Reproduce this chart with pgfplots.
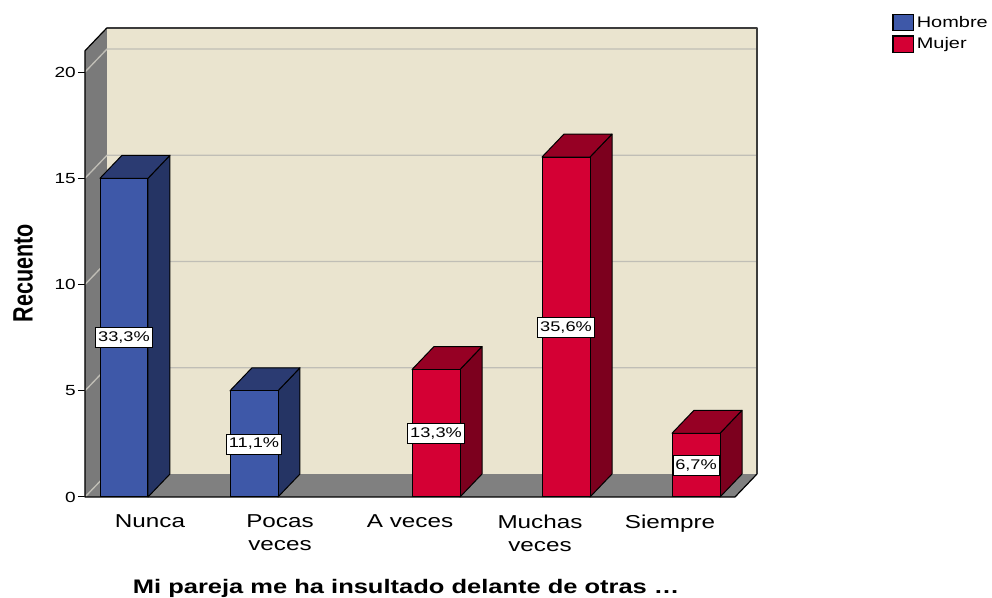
\documentclass[border=0pt]{standalone}
\usepackage{fontspec}
\setmainfont{Liberation Sans}[FakeStretch=1.3]
\newfontfamily\ylabfont{Liberation Sans}[FakeStretch=0.77]
\usepackage{pgfplots}
\pgfplotsset{compat=1.18}
\usepackage{pgfplotstable}

\definecolor{wallback}{RGB}{234,228,207}
\definecolor{wallside}{RGB}{122,122,122}
\definecolor{floorc}{RGB}{128,128,128}
\definecolor{gridc}{RGB}{192,190,182}
\definecolor{hfront}{RGB}{62,88,168}
\definecolor{htop}{RGB}{43,59,114}
\definecolor{hside}{RGB}{37,52,100}
\definecolor{mfront}{RGB}{212,0,52}
\definecolor{mtop}{RGB}{150,0,36}
\definecolor{mside}{RGB}{124,0,30}
\definecolor{edgec}{RGB}{60,60,60}

\pgfplotstableread{
x y
0 15
1 5
}\hombre
\pgfplotstableread{
x y
2 6
3 16
4 3
}\mujer
\pgfplotstableread{
x y lab
-0.2 7.5 {33,3\%}
0.8 2.5 {11,1\%}
2.2 3 {13,3\%}
3.2 8 {35,6\%}
4.2 1.5 {6,7\%}
}\labtab

% #1 x0, #2 x1, #3 x0+dx, #4 x1+dx, #5 h, #6 h+dy, #7 top colour, #8 side colour
\newcommand\barfaces[8]{%
 \addplot[forget plot, fill=#8, draw=black, line width=0.75pt, line join=round] coordinates {(#2,0) (#4,1.082) (#4,#6) (#2,#5)} --cycle;
 \addplot[forget plot, fill=#7, draw=black, line width=0.75pt, line join=round] coordinates {(#1,#5) (#2,#5) (#4,#6) (#3,#6)} --cycle;
}

\begin{document}
\begin{tikzpicture}
\begin{axis}[
 scale only axis, width=504pt, height=351.9pt,
 xmin=-0.5, xmax=4.6692, ymin=0, ymax=22.082,
 clip=false,
 axis lines=left, axis line style={draw=none,-},
 tick align=outside, major tick length=5.25pt,
 ytick={0,5,10,15,20},
 ytick style={black, line width=0.75pt},
 /pgf/number format/assume math mode=true,
 yticklabel style={font=\fontsize{11}{13}\selectfont, inner xsep=1.5pt},
 xtick={0,1,2,3,4},
 xticklabels={Nunca,{Pocas\\veces},{A veces},{Muchas\\veces},Siempre},
 x tick style={draw=none},
 xticklabel style={font=\fontsize{14}{17.25}\selectfont, align=center, anchor=north, inner sep=0pt, yshift=-8pt},
 xlabel={\bfseries Mi pareja me ha insultado delante de otras \dots},
 xlabel style={at={(axis description cs:0.478,0)}, anchor=base, yshift=-72.75pt, font=\fontsize{14.7}{17}\selectfont},
 ylabel={\ylabfont\bfseries Recuento},
 ylabel style={at={(axis description cs:-0.092,0.477)}, anchor=center, rotate=0, font=\fontsize{21}{24}\selectfont},
 legend style={at={(axis cs:5.708,22.78)}, anchor=north west, draw=none, fill=none, inner sep=0pt,
   font=\fontsize{11.5}{13}\selectfont, row sep=2.5pt, cells={anchor=west}},
]
% walls and floor
\addplot[forget plot, fill=wallback, draw=none] coordinates {(-0.3308,1.082) (4.6692,1.082) (4.6692,22.082) (-0.3308,22.082)} --cycle;
\addplot[forget plot, fill=wallside, draw=none] coordinates {(-0.5,0) (-0.3308,1.082) (-0.3308,22.082) (-0.5,21)} --cycle;
\addplot[forget plot, fill=floorc, draw=none] coordinates {(-0.5,0) (4.5,0) (4.6692,1.082) (-0.3308,1.082)} --cycle;
% grid lines
\addplot[forget plot, draw=gridc, line width=1pt] coordinates {(-0.5,0) (-0.3308,1.082)};
\addplot[forget plot, draw=gridc, line width=1pt] coordinates {(-0.5,5) (-0.3308,6.082) (4.6692,6.082)};
\addplot[forget plot, draw=gridc, line width=1pt] coordinates {(-0.5,10) (-0.3308,11.082) (4.6692,11.082)};
\addplot[forget plot, draw=gridc, line width=1pt] coordinates {(-0.5,15) (-0.3308,16.082) (4.6692,16.082)};
\addplot[forget plot, draw=gridc, line width=1pt] coordinates {(-0.5,20) (-0.3308,21.082) (4.6692,21.082)};
% outline
\addplot[forget plot, draw=black, line width=0.9pt, line join=round] coordinates {(4.6692,1.082) (4.5,0) (-0.5,0) (-0.5,21) (-0.3308,22.082)};
\addplot[forget plot, draw=edgec, line width=1.6pt, line join=round] coordinates {(-0.3308,22.082) (4.6692,22.082) (4.6692,1.082)};
% 3D faces of bars
\barfaces{-0.3846}{-0.0154}{-0.2154}{0.1538}{15}{16.082}{htop}{hside}
\barfaces{0.6154}{0.9846}{0.7846}{1.1538}{5}{6.082}{htop}{hside}
\barfaces{2.0154}{2.3846}{2.1846}{2.5538}{6}{7.082}{mtop}{mside}
\barfaces{3.0154}{3.3846}{3.1846}{3.5538}{16}{17.082}{mtop}{mside}
\barfaces{4.0154}{4.3846}{4.1846}{4.5538}{3}{4.082}{mtop}{mside}
% front faces
\addplot[ybar, bar width=0.3692, bar shift=-0.2, fill=hfront, draw=black, line width=0.75pt,
  legend image code/.code={\draw[fill=hfront, draw=black, line width=0.9pt] (0pt,-6.2pt) rectangle (15.5pt,6.2pt);}] table {\hombre};
\addlegendentry{Hombre}
\addplot[ybar, bar width=0.3692, bar shift=0.2, fill=mfront, draw=black, line width=0.75pt,
  legend image code/.code={\draw[fill=mfront, draw=black, line width=0.9pt] (0pt,-6.2pt) rectangle (15.5pt,6.2pt);}] table {\mujer};
\addlegendentry{Mujer}
% percentage labels
\addplot[forget plot, only marks, mark=none, nodes near coords, point meta=explicit symbolic,
  every node near coord/.style={anchor=center, fill=white, draw=black, line width=0.5pt,
   font=\fontsize{10.5}{12}\selectfont, inner xsep=1.8pt, inner ysep=0pt, minimum height=15pt}]
  table[x=x, y=y, meta=lab] {\labtab};
\end{axis}
\pgfresetboundingbox
\useasboundingbox (current axis.south west) ++(-63.75pt,-75.75pt) rectangle ++(744pt,448.5pt);
\end{tikzpicture}
\end{document}
